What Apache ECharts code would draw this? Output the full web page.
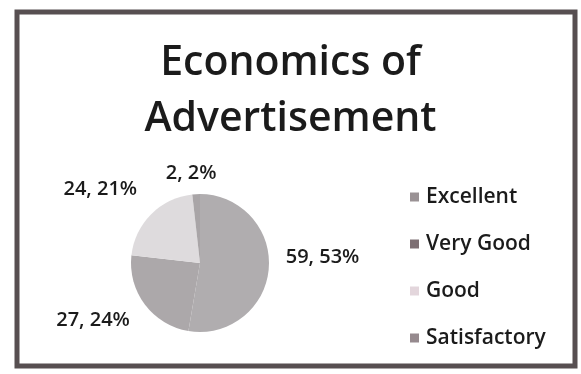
<!DOCTYPE html>
<html>
<head>
<meta charset="utf-8">
<script src="https://cdn.jsdelivr.net/npm/echarts@6/dist/echarts.min.js"></script>
<style>
html,body{margin:0;padding:0;background:#ffffff;}
#chart{width:581px;height:374px;}
</style>
</head>
<body>
<div id="chart"></div>
<script>
var titleText = "Economics of\nAdvertisement";
var categories = ["Excellent", "Very Good", "Good", "Satisfactory"];
var values = [59, 27, 24, 2];
var percents = [53, 24, 21, 2];
var colors = ["#b0adaf", "#aca8aa", "#dedbdd", "#a9a5a7"];
var legendColors = ["#9a9295", "#7d6f73", "#e3d6dc", "#968a8e"];

var labelShift = [[-2, -12], [2, 10], [2, -18], [30, -11]];

var chart = echarts.init(document.getElementById('chart'), null, {renderer: 'canvas'});
var data = categories.map(function (c, i) {
  return {name: c, value: values[i], itemStyle: {color: colors[i]}};
});
chart.setOption({
  backgroundColor: '#ffffff',
  animation: false,
  title: {
    text: titleText,
    left: 'center',
    top: 30,
    textStyle: {fontFamily: 'Open Sans', fontSize: 41, fontWeight: 600, color: '#1b1b1b', lineHeight: 56}
  },
  legend: {
    orient: 'vertical',
    left: 405,
    top: 181,
    itemWidth: 9,
    itemHeight: 9,
    itemGap: 25,
    icon: 'rect',
    data: categories.map(function (c, i) { return {name: c, itemStyle: {color: legendColors[i]}}; }),
    textStyle: {fontFamily: 'Open Sans', fontSize: 21, fontWeight: 600, color: '#1b1b1b', lineHeight: 22, padding: [0, 0, 0, 2]}
  },
  graphic: [{
    type: 'rect',
    shape: {x: 17, y: 12, width: 558, height: 354},
    style: {fill: 'none', stroke: '#574f51', lineWidth: 5},
    z: 100
  }],
  series: [{
    type: 'pie',
    center: [200, 263],
    radius: 69,
    startAngle: 90,
    clockwise: true,
    data: data,
    label: {
      show: true,
      position: 'outside',
      fontFamily: 'Open Sans',
      fontSize: 20,
      fontWeight: 600,
      color: '#1b1b1b',
      formatter: function (p) { return p.value + ', ' + percents[p.dataIndex] + '%'; }
    },
    labelLine: {show: false, length: 10, length2: 4},
    labelLayout: function (p) {
      var s = labelShift[p.dataIndex];
      return {dx: s[0], dy: s[1]};
    },
    itemStyle: {borderWidth: 0}
  }]
});
</script>
</body>
</html>
